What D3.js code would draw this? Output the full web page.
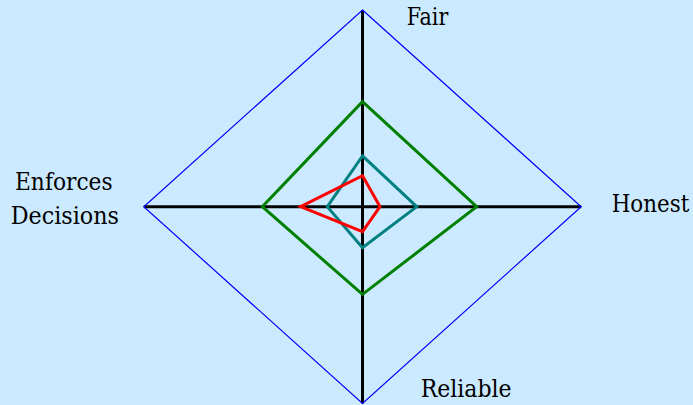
<!DOCTYPE html>
<html><head><meta charset="utf-8">
<script src="https://cdn.jsdelivr.net/npm/d3@7"></script>
<style>html,body{margin:0;padding:0;background:#cceaff;}svg{display:block;}
.lbl{font-family:"DejaVu Serif","Liberation Serif",serif;font-size:24px;}</style>
</head><body>
<svg id="c" width="693" height="405"></svg>
<script>
const axes = ["Fair", "Honest", "Reliable", "Enforces Decisions"];
const outerValues = [100, 100, 100, 100];
const greenValues = [53.4, 52.2, 44.6, 45.8];
const tealValues = [25.8, 24.8, 20.9, 16.1];
const redValues = [15.8, 8.0, 12.7, 28.3];
const series = [
  {name: "outer", values: outerValues, color: "#0000ff", width: 1.2},
  {name: "green", values: greenValues, color: "#008000", width: 3},
  {name: "teal", values: tealValues, color: "#008080", width: 3},
  {name: "red", values: redValues, color: "#ff0000", width: 3}
];

const svg = d3.select("#c");
const cx = 362.5, cy = 206.7;
const rX = d3.scaleLinear().domain([0, 100]).range([0, 218.7]);
const rY = d3.scaleLinear().domain([0, 100]).range([0, 196.7]);
const dirs = [[0, -1], [1, 0], [0, 1], [-1, 0]];
const pt = (v, i) => [cx + dirs[i][0] * rX(v), cy + dirs[i][1] * rY(v)];

svg.append("rect").attr("width", 693).attr("height", 405).attr("fill", "#cceaff");

axes.forEach((a, i) => {
  const p = pt(100, i);
  svg.append("line").attr("x1", cx).attr("y1", cy).attr("x2", p[0]).attr("y2", p[1])
    .attr("stroke", "#000").attr("stroke-width", 3);
});

const line = d3.line().curve(d3.curveLinearClosed);
series.forEach(s => {
  svg.append("path")
    .attr("d", line(s.values.map((v, i) => pt(v, i))))
    .attr("fill", "none").attr("stroke", s.color)
    .attr("stroke-width", s.width).attr("stroke-linejoin", "miter");
});

// label layout: each line has x, baseline y and rendered width
const labelLayout = [
  [{x: 406.7, y: 25, w: 41.6}],
  [{x: 611.7, y: 212.3, w: 77.6}],
  [{x: 420.7, y: 396.7, w: 91}],
  [{x: 15, y: 190, w: 97.7}, {x: 10.7, y: 224, w: 108.3}]
];
const labelLines = axes.map(a => a === "Enforces Decisions" ? ["Enforces", "Decisions"] : [a]);
labelLines.forEach((lines, i) => {
  lines.forEach((s, j) => {
    const L = labelLayout[i][j];
    const t = svg.append("text").attr("class", "lbl").attr("x", 0).attr("y", 0)
      .attr("fill", "#000").text(s);
    const nat = t.node().getComputedTextLength() || L.w;
    t.attr("transform", `translate(${L.x},${L.y}) scale(${L.w / nat},1)`);
  });
});
</script>
</body></html>
